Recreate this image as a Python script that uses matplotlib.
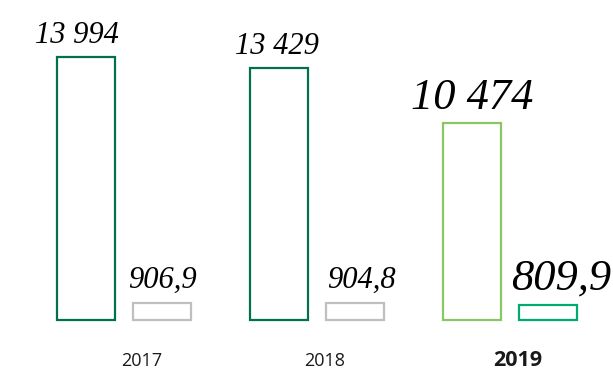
import matplotlib
matplotlib.use("Agg")
import matplotlib.pyplot as plt

# Yearly totals: main indicator and the small secondary one
years = ["2017", "2018", "2019"]
main_values = [13994, 13429, 10474]
small_values = [906.9, 904.8, 809.9]
main_labels = ["13 994", "13 429", "10 474"]
small_labels = ["906,9", "904,8", "809,9"]

main_colors = ["#00704f", "#00704f", "#8cc563"]
small_colors = ["#bfbfbf", "#bfbfbf", "#00ab72"]
main_sizes = [22, 22, 32]
small_sizes = [22, 22, 32]
# horizontal nudges of the value labels (pixels)
main_dx = [-9, -2, 0]
small_dx = [1, 7, 14]
year_dx = [18, 8, 8]

W, H = 613, 370
PT = 0.72                       # points per pixel at 100 dpi
fig = plt.figure(figsize=(W / 100, H / 100), dpi=100)
base = 320                      # pixel row of the bar baseline
per_px = 53.2                   # value units per pixel
ax = fig.add_axes([0, (H - base) / H, 1, base / H])
ax.set_xlim(0, W)
ax.set_ylim(0, base * per_px)
ax.axis("off")

step = 193
bw = 58
for i in range(len(years)):
    xm = 86 + i * step
    xs = 161.5 + i * step
    ax.bar(xm, main_values[i], width=bw, facecolor="white",
           edgecolor=main_colors[i], linewidth=1.6, clip_on=False)
    ax.bar(xs, small_values[i], width=bw, facecolor="white",
           edgecolor=small_colors[i], linewidth=1.6, clip_on=False)

    ax.annotate(main_labels[i], (xm, main_values[i]),
                xytext=(main_dx[i] * PT, 14 * PT), textcoords="offset points",
                ha="center", va="baseline", fontsize=main_sizes[i],
                family="Liberation Serif", style="italic", color="black")
    ax.annotate(small_labels[i], (xs, small_values[i]),
                xytext=(small_dx[i] * PT, 15 * PT), textcoords="offset points",
                ha="center", va="baseline", fontsize=small_sizes[i],
                family="Liberation Serif", style="italic", color="black")

    bold = i == len(years) - 1
    ax.annotate(years[i], ((xm + xs) / 2, 0),
                xytext=(year_dx[i] * PT, -46 * PT), textcoords="offset points",
                ha="center", va="baseline", fontsize=15.5 if bold else 13,
                family="Open Sans", weight="bold" if bold else "normal",
                color="#1a1a1a")

fig.savefig("out.png", dpi=100)
